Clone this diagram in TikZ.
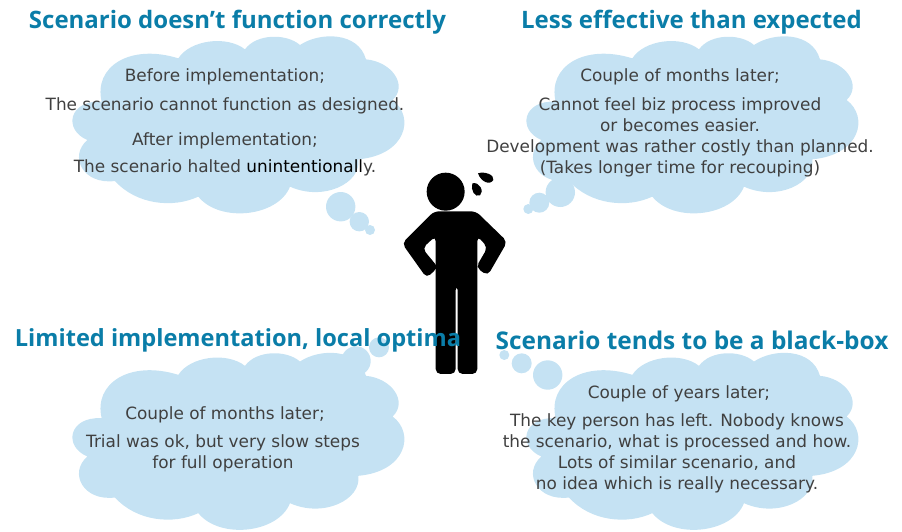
\documentclass[tikz,border=0pt]{standalone}
\usepackage{fontspec}
\setmainfont{DejaVu Sans}
\newfontfamily\headfont{Open Sans}[BoldFont={Open Sans Bold}]
\usepackage{tikz}
\definecolor{cloudblue}{HTML}{C5E2F3}
\definecolor{headblue}{HTML}{0A7DA8}
\definecolor{bodygray}{HTML}{404040}
\tikzset{cloudfill/.style = {fill=cloudblue}}
\tikzset{headtext/.style = {text=headblue, inner sep=0, font=\headfont\bfseries\fontsize{#1}{28}\selectfont},
         headtext/.default = 24}
\tikzset{bodytext/.style = {text=bodygray, inner sep=0, align=center, font=\fontsize{16.9}{21}\selectfont}}

\begin{document}
\begin{tikzpicture}[x=1pt, y=-1pt]
      \useasboundingbox (0, 0) rectangle (902, 531);

      % the same cloud four times
      \foreach \dx/\dy in {0/0, 454/0, 0/316.5, 454/316.5} {
        \begin{scope}[shift={(\dx pt, -\dy pt)}, x=0.3333pt, y=-0.3333pt]
          \fill [cloudfill] (305, 305) .. controls (280, 200) and (390, 130) .. (535, 175)
            .. controls (570, 120) and (680, 105) .. (735, 148)
            .. controls (770, 100) and (860, 100) .. (900, 135)
            .. controls (960, 95) and (1075, 95) .. (1098, 178)
            .. controls (1175, 185) and (1225, 255) .. (1178, 300)
            .. controls (1245, 350) and (1220, 465) .. (1075, 478)
            .. controls (1085, 550) and (970, 605) .. (870, 560)
            .. controls (835, 650) and (660, 670) .. (595, 590)
            .. controls (520, 625) and (410, 615) .. (345, 543)
            .. controls (250, 555) and (205, 470) .. (262, 420)
            .. controls (190, 390) and (205, 300) .. (305, 305) -- cycle;
        \end{scope}
      }

      % thought bubbles
      \fill [cloudfill] (340.7, 206.7) circle [radius=14.7];
      \fill [cloudfill] (359.3, 221.7) circle [radius=9.7];
      \fill [cloudfill] (370, 230) circle [radius=5];
      \fill [cloudfill] (560.3, 192.3) circle [radius=14.7];
      \fill [cloudfill] (539.3, 202.7) circle [radius=10];
      \fill [cloudfill] (528.3, 209) circle [radius=5];
      \fill [cloudfill] (356, 361) circle [radius=14.7];
      \fill [cloudfill] (379, 347.3) circle [radius=10];
      \fill [cloudfill] (547.7, 375) circle [radius=14.7];
      \fill [cloudfill] (521.7, 363.3) circle [radius=10];
      \fill [cloudfill] (504.3, 355) circle [radius=5];

      % person
      \begin{scope}[shift={(390pt, -160pt)}, x=0.3333pt, y=-0.3333pt]
        \fill (167, 95) circle [radius=57];
        \fill [rounded corners=5pt] (132, 154) -- (258, 154) -- (352, 245) -- (293, 347)
          -- (258, 322) -- (293, 262) -- (262, 228) -- (262, 642) -- (203, 642) -- (203, 375)
          -- (197, 375) -- (197, 642) -- (137, 642) -- (137, 228) -- (97, 265) -- (144, 322)
          -- (110, 354) -- (36, 250) -- cycle;
        \fill (247, 70) .. controls (268, 64) and (284, 95) .. (270, 106)
          .. controls (255, 114) and (241, 90) .. (247, 70) -- cycle;
        \fill (264, 40) .. controls (285, 33) and (314, 45) .. (310, 60)
          .. controls (300, 77) and (273, 66) .. (264, 40) -- cycle;
      \end{scope}

      % headings
      \node [headtext] (headA) at (237.5, 22.5) {Scenario doesn’t function correctly};
      \node [headtext] (headB) at (691.5, 22.5) {Less effective than expected};
      \node [headtext=23.6] (headC) at (238, 340) {Limited implementation, local optima};
      \node [headtext=24.4] (headD) at (692, 340) {Scenario tends to be a black-box};

      % cloud texts
      \node [bodytext] (beforeA) at (225, 77) {Before implementation;};
      \node [bodytext] (beforeB) at (225, 106) {The scenario cannot function as designed.};
      \node [bodytext] (afterA) at (225, 141) {After implementation;};
      \node [bodytext] (afterB) at (225, 168) {The scenario halted {\color{black}unintentionall}y.};
      \node [bodytext] (monthsA) at (680, 77) {Couple of months later;};
      \node [bodytext] (feel) at (680, 137) {Cannot feel biz process improved\\or becomes easier.\\Development was rather costly than planned.\\(Takes longer time for recouping)};
      \node [bodytext] (monthsB) at (225, 415) {Couple of months later;};
      \node [bodytext] (trial) at (223, 453) {Trial was ok, but very slow steps\\for full operation};
      \node [bodytext] (years) at (679, 394) {Couple of years later;};
      \node [bodytext] (keyman) at (677, 453.5) {The key person has left. Nobody knows\\the scenario, what is processed and how.\\Lots of similar scenario, and\\no idea which is really necessary.};
    \end{tikzpicture}
\end{document}
